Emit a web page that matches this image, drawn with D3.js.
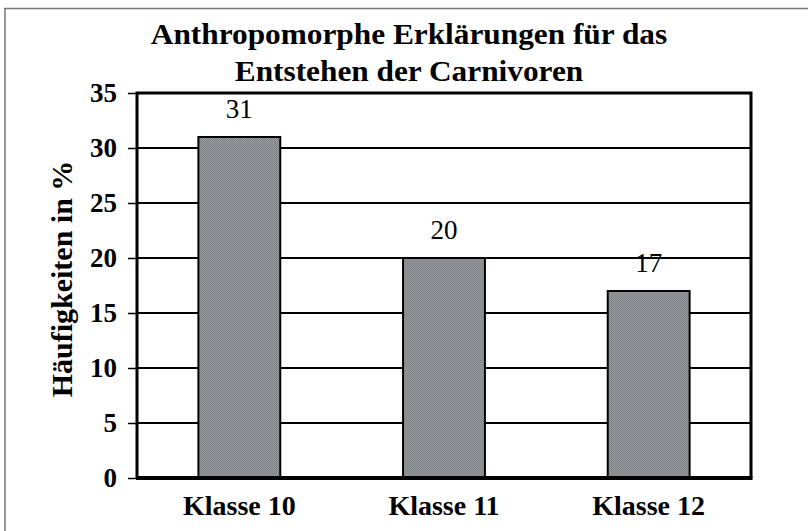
<!DOCTYPE html>
<head><meta charset="utf-8"/></head>
<style>
body { margin: 0; background: white; }
svg { display: block; }
</style>
<script src="https://d3js.org/d3.v7.min.js"></script>
<body>
<div id="chart"></div>
</body>
<script>

var categories = ["Klasse 10", "Klasse 11", "Klasse 12"];
var values = [31, 20, 17];
var yTicks = [0, 5, 10, 15, 20, 25, 30, 35];
var titleLines = ["Anthropomorphe Erklärungen für das", "Entstehen der Carnivoren"];
var yLabel = "Häufigkeiten in %";

var FONT = "'Liberation Serif', Tinos, 'Times New Roman', Times, serif";

var W = 808, H = 531;
var margin = {top: 93, left: 137, right: 57, bottom: 53};
var width = W - margin.left - margin.right,
    height = H - margin.top - margin.bottom;

var svg = d3.select("#chart").append("svg")
    .attr("width", W)
    .attr("height", H)
    .style("font-family", FONT);

// checkered fill like the original print
var pat = svg.append("defs").append("pattern")
    .attr("id", "checks")
    .attr("width", 2).attr("height", 2)
    .attr("patternUnits", "userSpaceOnUse");
pat.append("rect").attr("width", 2).attr("height", 2).attr("fill", "#9a9da1");
pat.append("rect").attr("width", 1).attr("height", 1).attr("fill", "#7c7f83");
pat.append("rect").attr("x", 1).attr("y", 1).attr("width", 1).attr("height", 1).attr("fill", "#7c7f83");

// outer page frame (top and left only)
svg.append("line").attr("x1", 4).attr("x2", W).attr("y1", 8.5).attr("y2", 8.5)
    .attr("stroke", "#777").attr("stroke-width", 1.5);
svg.append("line").attr("x1", 5).attr("x2", 5).attr("y1", 8).attr("y2", H)
    .attr("stroke", "#777").attr("stroke-width", 1.5);

// title (the print is a bit wider than the font, so stretch it)
svg.selectAll(".title")
    .data(titleLines)
    .enter().append("text")
    .attr("class", "title")
    .attr("transform", function(d, i) { return "translate(409," + (44 + i * 37) + ") scale(1.08,1)"; })
    .attr("text-anchor", "middle")
    .style("font-weight", "bold")
    .style("font-size", "29px")
    .text(function(d) { return d; });

var g = svg.append("g")
    .attr("transform", "translate(" + margin.left + "," + margin.top + ")");

var x = d3.scaleBand()
    .domain(categories)
    .range([0, width])
    .paddingInner(0.6)
    .paddingOuter(0.3);

var y = d3.scaleLinear()
    .domain([0, 35])
    .range([height, 0]);

// grid lines
g.selectAll(".grid")
    .data(yTicks.filter(function(d) { return d > 0 && d < 35; }))
    .enter().append("line")
    .attr("class", "grid")
    .attr("x1", 0).attr("x2", width)
    .attr("y1", function(d) { return y(d); })
    .attr("y2", function(d) { return y(d); })
    .attr("stroke", "black")
    .attr("stroke-width", 2);

// bars
g.selectAll(".bar")
    .data(values)
    .enter().append("rect")
    .attr("class", "bar")
    .attr("x", function(d, i) { return x(categories[i]); })
    .attr("y", function(d) { return y(d); })
    .attr("width", x.bandwidth())
    .attr("height", function(d) { return height - y(d); })
    .attr("fill", "url(#checks)")
    .attr("stroke", "black")
    .attr("stroke-width", 2);

// value labels
g.selectAll(".val")
    .data(values)
    .enter().append("text")
    .attr("class", "val")
    .attr("x", function(d, i) { return x(categories[i]) + x.bandwidth() / 2; })
    .attr("y", function(d) { return y(d) - 19; })
    .attr("text-anchor", "middle")
    .style("font-size", "27px")
    .text(function(d) { return d; });

// plot frame
g.append("path")
    .attr("d", "M0," + height + "V0H" + width + "V" + height)
    .attr("fill", "none")
    .attr("stroke", "black")
    .attr("stroke-width", 3);
g.append("line")
    .attr("x1", -1).attr("x2", width + 1.5)
    .attr("y1", height).attr("y2", height)
    .attr("stroke", "black").attr("stroke-width", 4);

// y axis
var yAxis = g.append("g")
    .call(d3.axisLeft(y).tickValues(yTicks).tickSize(9).tickPadding(11));
yAxis.attr("font-family", null);
yAxis.select(".domain").remove();
yAxis.selectAll(".tick line").attr("stroke", "black").attr("stroke-width", 1.5);
yAxis.selectAll(".tick text")
    .style("font-weight", "bold")
    .style("font-size", "27px")
    .attr("dy", "0.33em");

// x labels
g.selectAll(".xlab")
    .data(categories)
    .enter().append("text")
    .attr("class", "xlab")
    .attr("x", function(d) { return x(d) + x.bandwidth() / 2; })
    .attr("y", height + 37)
    .attr("text-anchor", "middle")
    .style("font-weight", "bold")
    .style("font-size", "28px")
    .text(function(d) { return d; });

// y label
svg.append("text")
    .attr("class", "ylab")
    .attr("transform", "translate(72,279) rotate(-90)")
    .attr("text-anchor", "middle")
    .style("font-weight", "bold")
    .style("font-size", "30px")
    .text(yLabel);

</script>
